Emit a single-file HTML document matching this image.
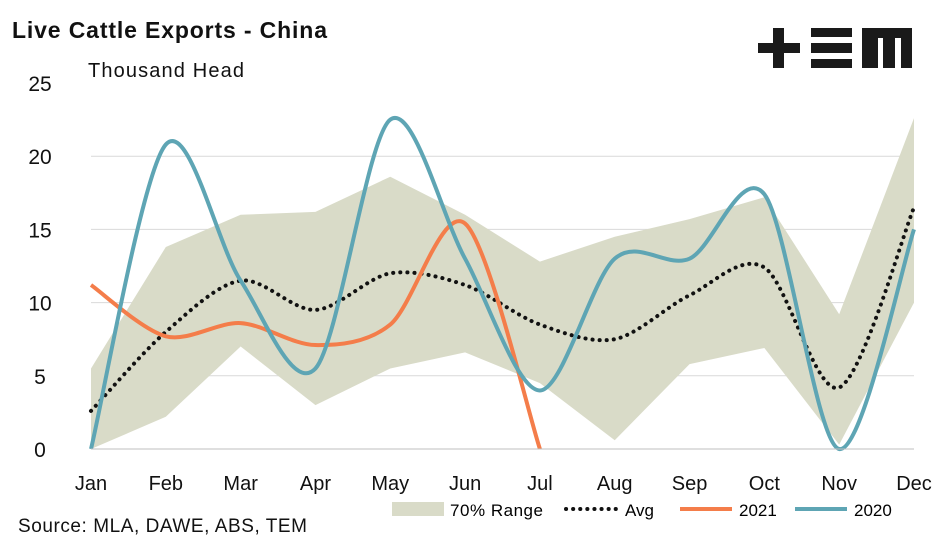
<!DOCTYPE html>
<html><head><meta charset="utf-8"><style>
body{margin:0;background:#fff;}
svg{display:block;font-family:"Liberation Sans",sans-serif;}
</style></head><body>
<svg width="947" height="543" viewBox="0 0 947 543">
<text x="12" y="38" font-size="23" font-weight="bold" fill="#111" textLength="315">Live Cattle Exports - China</text>
<text x="88" y="77" font-size="20" fill="#111" textLength="156">Thousand Head</text>
<g fill="#1a1a1a">
<rect x="758" y="43" width="42" height="10"/><rect x="773" y="28" width="11" height="40"/>
<rect x="811" y="28" width="41" height="9"/><rect x="811" y="43" width="41" height="10"/><rect x="811" y="59" width="41" height="9"/>
<path d="M862 28H912V68H901V38H895V68H883V38H878V68H862Z"/>
</g>
<g id="grid"></g><g id="plot"></g><g id="axes"></g>
<text x="18" y="532" font-size="19" fill="#111" textLength="289">Source: MLA, DAWE, ABS, TEM</text>
<g>
<g><rect x="392" y="502" width="52" height="14" fill="#d9dbc8"/><text x="450" y="516" font-size="17" textLength="93">70% Range</text></g>
<g><line x1="566" y1="509" x2="618" y2="509" stroke="#111" stroke-width="4" stroke-dasharray="0.1 7" stroke-linecap="round"/><text x="625" y="516" font-size="17">Avg</text></g>
<g><line x1="680" y1="509" x2="732" y2="509" stroke="#f47d4a" stroke-width="4"/><text x="739" y="516" font-size="17">2021</text></g>
<g><line x1="795" y1="509" x2="847" y2="509" stroke="#5ea5b4" stroke-width="4"/><text x="854" y="516" font-size="17">2020</text></g>
</g>
</svg>
<script>
const months=["Jan","Feb","Mar","Apr","May","Jun","Jul","Aug","Sep","Oct","Nov","Dec"];
const yTicks=[0,5,10,15,20,25];
const rangeUpper=[5.5,13.8,16,16.2,18.6,16,12.8,14.5,15.7,17.2,9.2,22.6];
const rangeLower=[0,2.2,7,3,5.5,6.6,4.5,0.6,5.8,6.9,0.3,10];
const avgValues=[2.6,8,11.5,9.5,12,11.2,8.5,7.5,10.5,12.4,4.2,16.5];
const s2021=[11.2,7.7,8.6,7.1,8.5,15.4,0];
const s2020=[0,20.8,11.5,5.5,22.5,13,4,13,13,17.4,0,15];
const NS="http://www.w3.org/2000/svg";
const x=i=>91+i*(914-91)/11;
const y=v=>449-v*(449-83)/25;
function mk(t,a,p){const e=document.createElementNS(NS,t);for(const k in a)e.setAttribute(k,a[k]);p.appendChild(e);return e;}
function smooth(pts){let d="M"+pts[0][0]+" "+pts[0][1];for(let i=0;i<pts.length-1;i++){const p0=pts[i-1]||pts[i],p1=pts[i],p2=pts[i+1],p3=pts[i+2]||p2;const t=6.5;d+=` C${p1[0]+(p2[0]-p0[0])/t} ${p1[1]+(p2[1]-p0[1])/t} ${p2[0]-(p3[0]-p1[0])/t} ${p2[1]-(p3[1]-p1[1])/t} ${p2[0]} ${p2[1]}`;}return d;}
const grid=document.getElementById('grid'),plot=document.getElementById('plot'),axes=document.getElementById('axes');
yTicks.forEach(v=>{
 if(v>0&&v<25){const l=mk('line',{x1:91,x2:914,y1:y(v),y2:y(v),stroke:'#d9d9d9','stroke-width':1},grid);
 
 }
 const t=mk('text',{x:40,y:y(v)+8,'font-size':21,'text-anchor':'middle',fill:'#111'},axes);t.textContent=v;
 
 
});
const bl=mk('line',{x1:91,x2:914,y1:y(0),y2:y(0),stroke:'#bfbfbf','stroke-width':1},axes);


months.forEach((m,i)=>{const t=mk('text',{x:x(i),y:490,'font-size':20,'text-anchor':'middle',fill:'#111'},axes);t.textContent=m;
 
 });
let d="";rangeUpper.forEach((v,i)=>d+=(i?"L":"M")+x(i)+" "+y(v));
for(let i=rangeLower.length-1;i>=0;i--)d+="L"+x(i)+" "+y(rangeLower[i]);
const area=mk('path',{d:d+"Z",fill:'#d9dbc8'},plot);


function line(arr,attrs,name){const p=mk('path',Object.assign({d:smooth(arr.map((v,i)=>[x(i),y(v)])),fill:'none'},attrs),plot);
 
 }
line(avgValues,{stroke:'#111','stroke-width':4,'stroke-dasharray':'0.1 7','stroke-linecap':'round'},'avg-line');
line(s2021,{stroke:'#f47d4a','stroke-width':4},'series-2021-line');
line(s2020,{stroke:'#5ea5b4','stroke-width':4},'series-2020-line');
</script>
</body></html>
